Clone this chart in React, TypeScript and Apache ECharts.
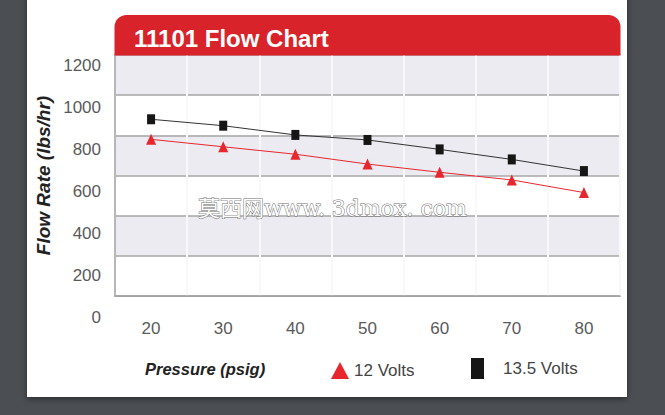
import { useEffect, useRef } from 'react';
import * as echarts from 'echarts';

const pressures = ['20', '30', '40', '50', '60', '70', '80'];
const volts12 = [780, 743, 706, 657, 616, 578, 515];
const volts135 = [880, 848, 802, 777, 730, 680, 622];
const flowTicks = [0, 200, 400, 600, 800, 1000, 1200];

const FONT = "'Liberation Sans', Arial, sans-serif";

export default function App() {
  const chartRef = useRef<HTMLDivElement>(null);

  useEffect(() => {
    if (!chartRef.current) return;
    const chart = echarts.init(chartRef.current, null, { renderer: 'svg' });

    const yMax = flowTicks[flowTicks.length - 1];
    const yStep = flowTicks[1] - flowTicks[0];

    chart.setOption({
      animation: false,
      backgroundColor: '#4b4f53',
      grid: [
        // plot area
        { left: 115, right: 45, top: 55, bottom: 119, show: true, borderColor: '#a2a2a2', borderWidth: 1.5 },
        // tick label column (labels sit a little lower than the grid lines in the original)
        { left: 115, width: 505, top: 65, height: 252 },
      ],
      xAxis: [
        {
          type: 'category',
          gridIndex: 0,
          data: pressures,
          boundaryGap: true,
          axisLine: { show: true, lineStyle: { color: '#a2a2a2', width: 1.5 } },
          axisTick: { show: false },
          axisLabel: { color: '#5a5a5a', fontSize: 17, fontFamily: FONT, margin: 24 },
          splitLine: { show: true, lineStyle: { color: '#f8f8fb', width: 2 } },
        },
        { type: 'value', gridIndex: 1, show: false },
      ],
      yAxis: [
        {
          type: 'value',
          gridIndex: 0,
          min: 0,
          max: yMax,
          interval: yStep,
          axisLine: { show: true, lineStyle: { color: '#a2a2a2', width: 1.5 } },
          axisTick: { show: false },
          axisLabel: { show: false },
          splitLine: { show: true, lineStyle: { color: '#a6a6a6', width: 1.5 } },
          splitArea: { show: true, areaStyle: { color: ['#ffffff', '#ebebf1'] } },
          name: 'Flow Rate (lbs/hr)',
          nameLocation: 'middle',
          nameRotate: 90,
          nameGap: 62,
          nameTextStyle: { color: '#222', fontSize: 19, fontWeight: 'bold', fontStyle: 'italic', fontFamily: FONT },
        },
        {
          type: 'value',
          gridIndex: 1,
          min: 0,
          max: yMax,
          interval: yStep,
          axisLine: { show: false },
          axisTick: { show: false },
          splitLine: { show: false },
          axisLabel: {
            color: '#5a5a5a',
            fontSize: 17,
            fontFamily: FONT,
            margin: 14,
            formatter: (v: number) => String(v),
          },
        },
      ],
      legend: [
        {
          data: [{ name: '12 Volts', icon: 'triangle' }],
          left: 331,
          top: 362,
          padding: 0,
          itemWidth: 18,
          itemHeight: 17,
          textStyle: { color: '#444', fontSize: 17, fontFamily: FONT },
        },
        {
          data: [{ name: '13.5 Volts', icon: 'rect' }],
          left: 471,
          top: 358,
          padding: 0,
          itemWidth: 13,
          itemHeight: 21,
          textStyle: { color: '#444', fontSize: 17, fontFamily: FONT, padding: [0, 0, 0, 14] },
        },
      ],
      series: [
        {
          name: '12 Volts',
          type: 'line',
          xAxisIndex: 0,
          yAxisIndex: 0,
          data: volts12,
          symbol: 'triangle',
          symbolSize: [10, 11],
          lineStyle: { color: '#e8262d', width: 1 },
          itemStyle: { color: '#e8262d' },
          z: 3,
        },
        {
          name: '13.5 Volts',
          type: 'line',
          xAxisIndex: 0,
          yAxisIndex: 0,
          data: volts135,
          symbol: 'rect',
          symbolSize: [8, 10],
          lineStyle: { color: '#333', width: 1 },
          itemStyle: { color: '#161616' },
          z: 3,
        },
      ],
      graphic: [
        {
          type: 'rect',
          z: -10,
          shape: { x: 27, y: -10, width: 600, height: 407 },
          style: { fill: '#ffffff', shadowBlur: 6, shadowColor: 'rgba(0,0,0,0.45)', shadowOffsetY: 2 },
        },
        {
          type: 'rect',
          z: 100,
          shape: { x: 114.5, y: 15, width: 506, height: 40.5, r: [12, 12, 0, 0] },
          style: { fill: '#d8232a' },
        },
        {
          type: 'text',
          z: 101,
          x: 134,
          y: 38,
          style: {
            text: '11101 Flow Chart',
            fill: '#ffffff',
            font: `bold 24px ${FONT}`,
            verticalAlign: 'middle',
          },
        },
        {
          type: 'text',
          z: 101,
          x: 145,
          y: 369,
          style: {
            text: 'Pressure (psig)',
            fill: '#222',
            font: `italic bold 16.5px ${FONT}`,
            verticalAlign: 'middle',
          },
        },
        {
          type: 'text',
          z: 101,
          x: 198,
          y: 208,
          style: {
            text: '莫西网www. 3dmox. com',
            fill: '#ffffff',
            stroke: '#707070',
            lineWidth: 1,
            font: "22px 'DejaVu Serif', 'Noto Sans CJK SC', serif",
            verticalAlign: 'middle',
          },
        },
      ],
    });

    return () => {
      chart.dispose();
    };
  }, []);

  return (
    <div
      ref={chartRef}
      style={{ position: 'absolute', left: 0, top: 0, width: 665, height: 415 }}
    />
  );
}
